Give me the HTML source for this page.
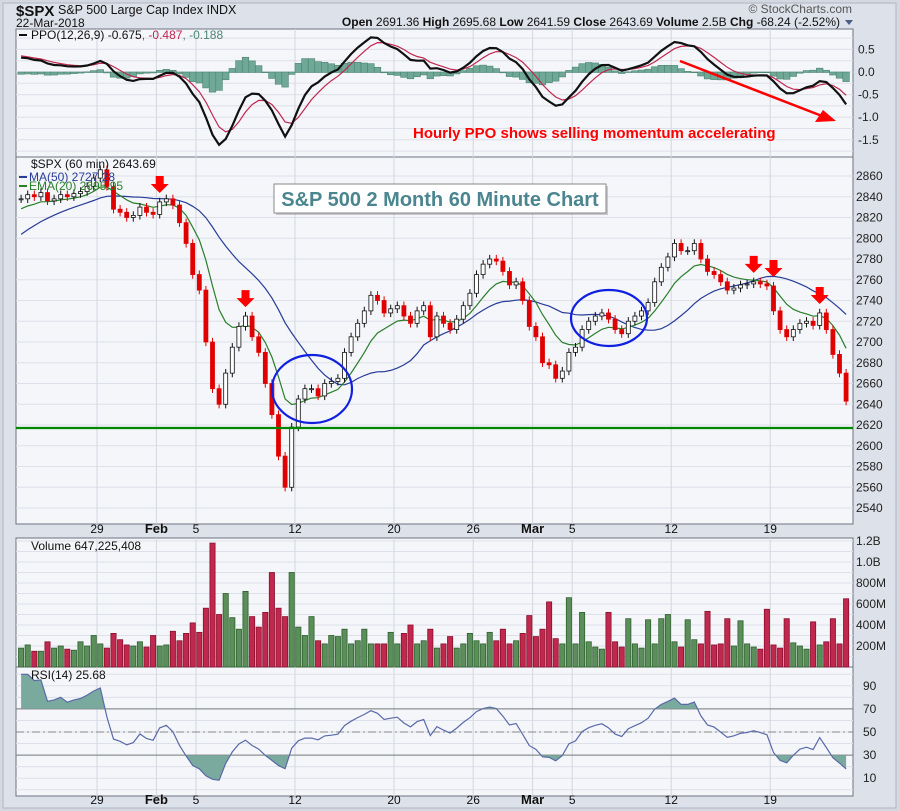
<!DOCTYPE html>
<html><head><meta charset="utf-8"><style>
html,body{margin:0;padding:0;background:#d3d8e1;}
svg{display:block;font-family:"Liberation Sans",sans-serif;}
</style></head><body>
<svg id="chart" width="900" height="811" viewBox="0 0 900 811" xmlns="http://www.w3.org/2000/svg">
<rect x="0" y="0" width="900" height="811" fill="#d3d8e1"/>
<rect x="3" y="3" width="893" height="805" fill="#dde1e9" stroke="#b0b6c2"/>
<g>
<text x="16" y="16" font-size="15" font-weight="bold" fill="#111">$SPX</text>
<text x="58" y="14" font-size="12.5" fill="#111">S&amp;P 500 Large Cap Index  INDX</text>
<text x="16" y="27" font-size="12" fill="#111">22-Mar-2018</text>
<text x="852" y="13" font-size="12" fill="#555" text-anchor="end">© StockCharts.com</text>
<text x="840" y="26" font-size="12" fill="#111" text-anchor="end"><tspan font-weight="bold">Open</tspan> 2691.36  <tspan font-weight="bold">High</tspan> 2695.68  <tspan font-weight="bold">Low</tspan> 2641.59  <tspan font-weight="bold">Close</tspan> 2643.69  <tspan font-weight="bold">Volume</tspan> 2.5B  <tspan font-weight="bold">Chg</tspan> -68.24 (-2.52%)</text>
<path d="M845 20 L853 20 L849 25 Z" fill="#4a5d86"/>
</g>
<g id="panels"></g>
<g id="marks"></g>
<g>
<line x1="680" y1="61" x2="822" y2="116" stroke="#f00" stroke-width="2.5"/>
<path d="M836 121 L815 122 L823 110 Z" fill="#f00"/>
<text x="413" y="138" font-size="15" font-weight="bold" fill="#f00">Hourly PPO shows selling momentum accelerating</text>
<rect x="276" y="186" width="332" height="29" fill="#999" opacity="0.5"/>
<rect x="274" y="184" width="332" height="29" fill="#fff" stroke="#888"/>
<text x="440" y="206" font-size="20" font-weight="bold" fill="#4b8590" text-anchor="middle">S&amp;P 500 2 Month 60 Minute Chart</text>
<ellipse cx="312" cy="389" rx="40" ry="34" fill="none" stroke="#1020e0" stroke-width="2.2"/>
<ellipse cx="609" cy="318" rx="38" ry="28" fill="none" stroke="#1020e0" stroke-width="2.2"/>
<line x1="16" y1="428" x2="853" y2="428" stroke="#080" stroke-width="2.2"/>
</g>
<g id="arrows"></g>
</svg>
<script>
const days = ["Jan23","Jan24","Jan25","Jan26","Jan29","Jan30","Jan31","Feb1","Feb2","Feb5","Feb6","Feb7","Feb8","Feb9","Feb12","Feb13","Feb14","Feb15","Feb16","Feb20","Feb21","Feb22","Feb23","Feb26","Feb27","Feb28","Mar1","Mar2","Mar5","Mar6","Mar7","Mar8","Mar9","Mar12","Mar13","Mar14","Mar15","Mar16","Mar19","Mar20","Mar21","Mar22"];
const warmup = [2740,2748,2755,2762,2770,2776,2782,2788,2794,2800,2805,2810,2814,2818,2822,2826,2829,2832,2834,2836,2838];
const closes = [2838,2842,2840, 2844,2836,2838, 2842,2840,2843, 2845,2850,2858, 2866,2850,2828, 2825,2820,2822, 2830,2825,2823, 2835,2838,2832, 2815,2795,2765, 2750,2700,2655, 2640,2670,2695, 2715,2725,2705, 2690,2660,2630, 2590,2560,2618, 2645,2655,2655, 2648,2660,2662, 2665,2690,2705, 2718,2730,2745, 2740,2728,2732, 2735,2725,2718, 2730,2735,2705, 2725,2718,2712, 2722,2735,2747, 2765,2775,2780, 2778,2768,2755, 2758,2740,2715, 2705,2680,2678, 2665,2672,2690, 2695,2712,2720, 2725,2728,2722, 2712,2708,2720, 2725,2730,2738, 2758,2772,2782, 2795,2788,2788, 2795,2780,2768, 2765,2758,2750, 2752,2755,2756, 2758,2756,2754, 2730,2712,2705, 2712,2718,2720, 2716,2728,2712, 2688,2670,2643];
const volumes = [180,210,150, 150,240,180, 200,170,160, 240,200,300, 220,180,320, 260,210,200, 240,190,300, 200,210,340, 250,320,420, 330,560,1180, 500,700,470, 360,720,480, 380,520,900, 560,480,900, 380,300,480, 250,220,300, 290,360,220, 250,360,220, 220,220,330, 220,320,400, 220,250,360, 180,220,290, 180,220,320, 250,220,330, 250,360,220, 250,320,490, 290,360,620, 270,220,660, 220,520,240, 190,170,520, 240,190,460, 220,180,450, 220,460,500, 240,190,450, 260,220,530, 210,220,460, 200,440,220, 190,170,550, 210,180,460, 230,200,170, 430,210,240, 460,220,650];
const priceTicks = [2540,2560,2580,2600,2620,2640,2660,2680,2700,2720,2740,2760,2780,2800,2820,2840,2860];
const ppoTicks = [0.5,0.0,-0.5,-1.0,-1.5];
const volTicks = [200,400,600,800,1000,1200];
const volTickLabels = ["200M","400M","600M","800M","1.0B","1.2B"];
const rsiTicks = [10,30,50,70,90];
const dateTickDays = [4,7,9,14,19,23,26,28,33,38];
const dateTickLabels = ["29","Feb","5","12","20","26","Mar","5","12","19"];
const arrowBars = [21,34,111,114,121];

const NS="http://www.w3.org/2000/svg";
const L=16,R=853,BPD=3,DAYW=19.8;
function mk(tag,attrs,parent){const e=document.createElementNS(NS,tag);for(const k in attrs)e.setAttribute(k,attrs[k]);parent.appendChild(e);return e;}
const P=document.getElementById('panels'),M=document.getElementById('marks'),A=document.getElementById('arrows');
const dayX=d=>196+(d-9)*DAYW;
const barX=i=>dayX(Math.floor(i/BPD))+((i%BPD)+0.5)*DAYW/BPD;
const yP=p=>176+(2860-p)*1.0375;
const yPPO=v=>72-v*45.2;
const yV=v=>667-v*0.105;
const yR=v=>732-(v-50)*1.155;

const panels=[["ppo-panel",29,157],["price-panel",157,524],["volume-panel",538,667],["rsi-panel",667,796]];
panels.forEach(p=>{const r=mk('rect',{x:L,y:p[1],width:R-L,height:p[2]-p[1],fill:'#f4f6fa',stroke:'#6d7280','stroke-width':1},P);

});
function hgrid(y,y0,y1){if(y>y0&&y<y1)mk('line',{x1:L,x2:R,y1:y,y2:y,stroke:'#dde0e8'},P);}
for(let v=1.0;v>=-2;v-=0.25)hgrid(yPPO(v),29,157);
priceTicks.forEach(t=>hgrid(yP(t),157,524));
for(let v=100;v<=1300;v+=100)hgrid(yV(v),538,667);
for(let v=0;v<=100;v+=10)hgrid(yR(v),667,796);
dateTickDays.forEach(d=>{const x=dayX(d);panels.forEach(p=>mk('line',{x1:x,x2:x,y1:p[1],y2:p[2],stroke:'#d4d7e0'},P));});
ppoTicks.forEach(t=>{const e=mk('text',{x:858,y:yPPO(t)+4,'font-size':12,fill:'#222'},P);e.textContent=t.toFixed(1);

});
priceTicks.forEach(t=>{const e=mk('text',{x:856,y:yP(t)+4,'font-size':12,fill:'#222'},P);e.textContent=t;

});
volTicks.forEach((t,i)=>{const e=mk('text',{x:856,y:yV(t)+4,'font-size':12,fill:'#222'},P);e.textContent=volTickLabels[i];

});
rsiTicks.forEach(t=>{const e=mk('text',{x:863,y:yR(t)+4,'font-size':12,fill:'#222'},P);e.textContent=t;

});
[533,804].forEach(y=>dateTickDays.forEach((d,i)=>{const lb=dateTickLabels[i];const bold=(lb==='Feb'||lb==='Mar');
const e=mk('text',{x:dayX(d),y:y,'font-size':bold?13:12,'font-weight':bold?'bold':'normal',fill:'#111','text-anchor':'middle'},P);e.textContent=lb;

}));

const all=warmup.concat(closes),W=warmup.length;
function ema(arr,n){const k=2/(n+1);const o=[];arr.forEach((v,i)=>o.push(i?o[i-1]+k*(v-o[i-1]):v));return o;}
function sma(arr,n){return arr.map((v,i)=>{const s=arr.slice(Math.max(0,i-n+1),i+1);return s.reduce((a,b)=>a+b,0)/s.length;});}
const e5=ema(all,5),e11=ema(all,11);
const ppo=all.map((v,i)=>(e5[i]-e11[i])/e11[i]*100*0.9);
const sig=ema(ppo,4);
const ma50=sma(all,21),ema20=ema(all,9);
const rsi=[];let ag=0,al=0;const rn=10;
for(let i=1;i<all.length;i++){const ch=all[i]-all[i-1];const g=Math.max(ch,0),l=Math.max(-ch,0);
 if(i<=rn){ag+=g/rn;al+=l/rn;}else{ag=(ag*(rn-1)+g)/rn;al=(al*(rn-1)+l)/rn;}
 rsi[i]=al===0?100:100-100/(1+ag/al);}

const defs=mk('defs',{},M);
const cp=mk('clipPath',{id:'ppoclip'},defs);mk('rect',{x:L,y:29,width:R-L,height:128},cp);
const PG=mk('g',{'clip-path':'url(#ppoclip)'},M);
closes.forEach((c,i)=>{const h=ppo[i+W]-sig[i+W];const y0=yPPO(0),y1=yPPO(h);
 const r=mk('rect',{x:barX(i)-3.3,y:Math.min(y0,y1),width:6.6,height:Math.abs(y1-y0)+0.5,fill:'#6fa896',stroke:'#4d8572','stroke-width':0.6},PG);
 
 });
function line(vals,yf,color,w,name,par){const pts=closes.map((c,i)=>barX(i).toFixed(1)+','+yf(vals[i+W]).toFixed(1)).join(' ');
 const e=mk('polyline',{points:pts,fill:'none',stroke:color,'stroke-width':w},par||M);
 
 return pts;}
line(sig,yPPO,'#c0284e',1.2,'ppo-signal-line',PG);
line(ppo,yPPO,'#111',2.2,'ppo-line',PG);
line(ma50,yP,'#283c98',1.2,'ma50-line');
line(ema20,yP,'#2a7f2a',1.2,'ema20-line');
closes.forEach((c,i)=>{const o=i?closes[i-1]:warmup[W-1];const x=barX(i);const up=c>=o;
 const hi=Math.max(o,c)+4,lo=Math.min(o,c)-4;
 mk('line',{x1:x,x2:x,y1:yP(hi),y2:yP(lo),stroke:up?'#111':'#e00000','stroke-width':1},M);
 const b=mk('rect',{x:x-2,y:yP(Math.max(o,c)),width:4,height:Math.max(1,Math.abs(yP(o)-yP(c))),fill:up?'#fff':'#e00000',stroke:up?'#111':'#e00000','stroke-width':0.8},M);
 
 });
volumes.forEach((v,i)=>{const prev=i?closes[i-1]:warmup[W-1];const up=closes[i]>=prev;
 const r=mk('rect',{x:barX(i)-2.6,y:yV(v),width:5.2,height:667-yV(v),fill:up?'#5a8f5a':'#c0284e',stroke:up?'#2f5f2f':'#8a0f2e','stroke-width':0.8},M);
 
 });
mk('line',{x1:L,x2:R,y1:yR(70),y2:yR(70),stroke:'#777'},M);
mk('line',{x1:L,x2:R,y1:yR(30),y2:yR(30),stroke:'#777'},M);
mk('line',{x1:L,x2:R,y1:yR(50),y2:yR(50),stroke:'#888','stroke-dasharray':'8 3 2 3'},M);
const c1=mk('clipPath',{id:'above70'},defs);mk('rect',{x:L,y:667,width:R-L,height:yR(70)-667},c1);
const c2=mk('clipPath',{id:'below30'},defs);mk('rect',{x:L,y:yR(30),width:R-L,height:796-yR(30)},c2);
const rpts=closes.map((c,i)=>barX(i).toFixed(1)+','+yR(rsi[i+W]).toFixed(1));
const x0=barX(0).toFixed(1),x1=barX(closes.length-1).toFixed(1);
mk('polygon',{points:x0+','+yR(70)+' '+rpts.join(' ')+' '+x1+','+yR(70),fill:'#79aa9d','clip-path':'url(#above70)'},M);
mk('polygon',{points:x0+','+yR(30)+' '+rpts.join(' ')+' '+x1+','+yR(30),fill:'#79aa9d','clip-path':'url(#below30)'},M);
line(rsi,yR,'#5a6aa8',1.2,'rsi-line');
arrowBars.forEach(i=>{const x=barX(i);const y=yP(Math.max(closes[i],closes[i-1]))-26;
 const g=mk('path',{d:`M${x-4} ${y} h8 v8 h5 l-9 9 l-9 -9 h5 z`,fill:'#f00'},A);
 
 });
function leg(x,y,txt,color,name){const e=mk('text',{x:x,y:y,'font-size':12,fill:color},A);e.textContent=txt;
 
 return e;}
mk('line',{x1:19,x2:27,y1:35,y2:35,stroke:'#111','stroke-width':2},A);
const pl=leg(31,39,'PPO(12,26,9) -0.675','#111','ppo-legend');
const t1=mk('tspan',{fill:'#c0284e'},pl);t1.textContent=', -0.487';
const t2=mk('tspan',{fill:'#4d8572'},pl);t2.textContent=', -0.188';
leg(31,168,'$SPX (60 min) 2643.69','#111','price-legend');
mk('line',{x1:19,x2:27,y1:177,y2:177,stroke:'#283c98','stroke-width':2},A);
leg(29,181,'MA(50) 2727.28','#283c98','ma50-legend');
mk('line',{x1:19,x2:27,y1:186,y2:186,stroke:'#2a7f2a','stroke-width':2},A);
leg(29,190,'EMA(20) 2695.95','#2a7f2a','ema20-legend');
leg(31,550,'Volume 647,225,408','#111','volume-legend');
leg(31,679,'RSI(14) 25.68','#111','rsi-legend');
</script>
</body></html>
